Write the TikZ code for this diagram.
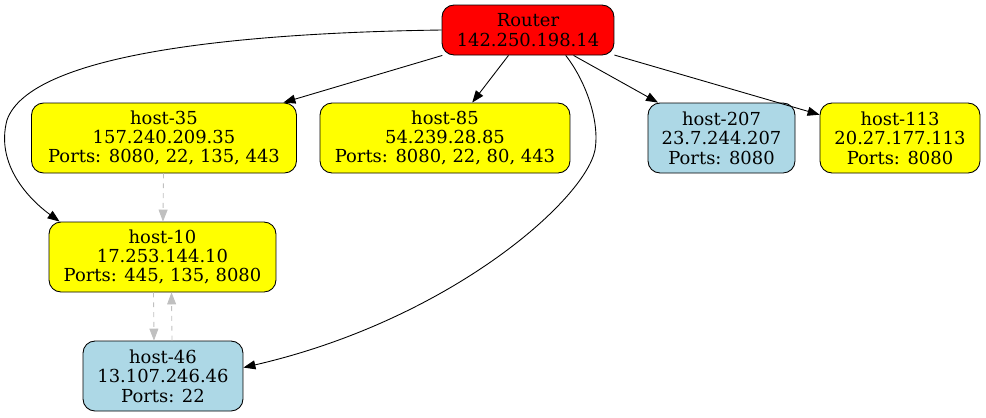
\documentclass[tikz,border=0pt]{standalone}
\usepackage{fontspec}
\setmainfont{DejaVu Serif}
\usepackage{xcolor}
\usetikzlibrary{arrows.meta}

\definecolor{hostyellow}{RGB}{255,255,0}
\definecolor{hostblue}{RGB}{173,216,230}
\definecolor{routerred}{RGB}{255,0,0}
\definecolor{linkgray}{RGB}{192,192,192}

\tikzset{
    box/.style={draw, rounded corners=0.24cm, line width=0.5pt, align=center,
        inner sep=0pt, font=\fontsize{10.2}{11}\selectfont},
    link/.style={line width=0.5pt, -{Triangle[length=0.24cm,width=0.18cm]}},
    peer/.style={link, linkgray, dash pattern=on 2.8pt off 2.8pt}
}

\begin{document}
\begin{tikzpicture}[x=0.02cm, y=-0.02cm]

\useasboundingbox (0,0) rectangle (986,417);

% router
\node[box, fill=routerred, minimum width=3.44cm, minimum height=1.0cm]
    (router) at (528,30) {Router\\142.250.198.14};

% hosts
\foreach \nm/\x/\y/\bw/\col/\txt in {
    h35/164/138/5.3/hostyellow/{host-35\\157.240.209.35\\Ports: 8080, 22, 135, 443},
    h85/445/138/5.0/hostyellow/{host-85\\54.239.28.85\\Ports: 8080, 22, 80, 443},
    h207/721.5/138/2.94/hostblue/{host-207\\23.7.244.207\\Ports: 8080},
    h113/900/138/3.2/hostyellow/{host-113\\20.27.177.113\\Ports: 8080},
    h10/162.5/257/4.54/hostyellow/{host-10\\17.253.144.10\\Ports: 445, 135, 8080},
    h46/163/376/3.2/hostblue/{host-46\\13.107.246.46\\Ports: 22}} {
    \node[box, fill=\col, minimum width=\bw cm, minimum height=1.4cm]
        (\nm) at (\x,\y) {\txt};
}

% router links
\foreach \nm in {h35, h85, h207, h113}
    \draw[link] (router) -- (\nm);

\draw[link] (router.west) .. controls (230,33) and (30,55) .. (7,120)
    .. controls (-5,165) and (30,200) .. (h10.161);
\draw[link] (router.-34) .. controls (585,80) and (600,120) .. (595,150)
    .. controls (585,200) and (450,320) .. (h46.6);

% host to host
\draw[peer] (h35) -- (h10);
\draw[peer] ([xshift=-0.18cm]h10.south) -- ([xshift=-0.18cm]h46.north);
\draw[peer] ([xshift=0.18cm]h46.north) -- ([xshift=0.18cm]h10.south);

\end{tikzpicture}
\end{document}
